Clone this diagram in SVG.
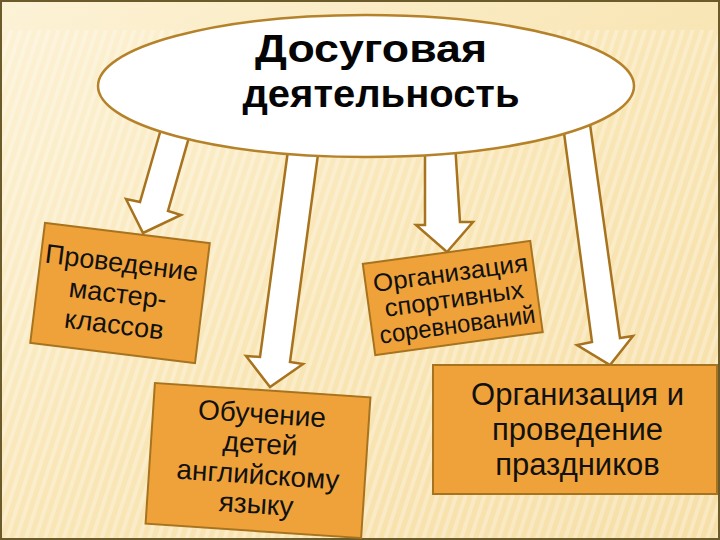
<svg xmlns="http://www.w3.org/2000/svg" width="720" height="540" viewBox="0 0 720 540">
  <defs>
    <linearGradient id="bg" x1="0" y1="0" x2="1" y2="1">
      <stop offset="0" stop-color="#FCF2D6"/>
      <stop offset="0.5" stop-color="#F9E6B6"/>
      <stop offset="1" stop-color="#F6DFA8"/>
    </linearGradient>
    <pattern id="stripes" width="9" height="9" patternUnits="userSpaceOnUse" patternTransform="rotate(18)">
      <rect x="0" y="0" width="4" height="9" fill="#FFFFFF" opacity="0.28"/>
    </pattern>
    <style>
      .arrow { fill: #FFFFFF; stroke: #A8731E; stroke-width: 2.5; stroke-linejoin: miter; }
      .box { fill: #EFA23A; stroke: #A8731E; stroke-width: 2; }
      .txt { font-family: "Liberation Sans", Arial, sans-serif; fill: #111111; text-anchor: middle; }
      .title { font-family: "Liberation Sans", Arial, sans-serif; font-weight: bold; font-size: 38px; fill: #050505; text-anchor: middle; }
    </style>
  </defs>

  <!-- background -->
  <rect x="0" y="0" width="720" height="540" fill="url(#bg)"/>
  <rect x="0" y="30" width="720" height="510" fill="url(#stripes)"/>
  <rect x="1" y="1" width="718" height="538" fill="none" stroke="#6B5A2A" stroke-width="2"/>

  <!-- connectors -->
  <g id="connectors">
    <polygon class="arrow" points="163,122 191,130 168,211 181,215 143,233 126,199 140,202"/>
    <polygon class="arrow" points="289,143 319,147 290,362 303,364 270,387 246,356 260,357"/>
    <polygon class="arrow" points="425,143 455,143 460,222 473,222 447,252 416,225 425,225"/>
    <polygon class="arrow" points="562,118 589,117 620,338 633,336 610,365 577,345 592,342"/>
  </g>

  <!-- central node -->
  <g id="node-root">
    <ellipse cx="366" cy="86" rx="268" ry="71" fill="#FFFFFF" stroke="#B5822A" stroke-width="2.5"/>
    <text class="title" x="371" y="62" textLength="232" lengthAdjust="spacingAndGlyphs">Досуговая</text>
    <text class="title" x="381" y="107" textLength="277" lengthAdjust="spacingAndGlyphs">деятельность</text>
  </g>

  <!-- node 1 -->
  <g id="node-master" transform="translate(120,293) rotate(7)">
    <rect class="box" x="-83" y="-60.5" width="166" height="121"/>
    <text class="txt" font-size="27" x="-2" y="-21">Проведение</text>
    <text class="txt" font-size="27" x="-2" y="10">мастер-</text>
    <text class="txt" font-size="27" x="-2" y="41">классов</text>
  </g>

  <!-- node 2 -->
  <g id="node-english" transform="translate(258,460.5) rotate(3.8)">
    <rect class="box" x="-108" y="-70.5" width="216" height="141"/>
    <text class="txt" font-size="28" x="1" y="-37.5">Обучение</text>
    <text class="txt" font-size="28" x="1" y="-7.5">детей</text>
    <text class="txt" font-size="28" x="1" y="23.5" textLength="163" lengthAdjust="spacingAndGlyphs">английскому</text>
    <text class="txt" font-size="28" x="1" y="53">языку</text>
  </g>

  <!-- node 3 -->
  <g id="node-sport" transform="translate(452.75,298) rotate(-7.8)">
    <rect class="box" x="-84.5" y="-46" width="169" height="92"/>
    <text class="txt" font-size="25" x="1" y="-16.5" textLength="156" lengthAdjust="spacingAndGlyphs">Организация</text>
    <text class="txt" font-size="25" x="1" y="9.5" textLength="140" lengthAdjust="spacingAndGlyphs">спортивных</text>
    <text class="txt" font-size="25" x="1" y="35.5" textLength="157" lengthAdjust="spacingAndGlyphs">соревнований</text>
  </g>

  <!-- node 4 -->
  <g id="node-holidays">
    <rect class="box" x="433" y="365" width="284" height="129"/>
    <text class="txt" font-size="31" x="577.5" y="405">Организация и</text>
    <text class="txt" font-size="31" x="577.5" y="440">проведение</text>
    <text class="txt" font-size="31" x="577.5" y="475">праздников</text>
  </g>
</svg>
